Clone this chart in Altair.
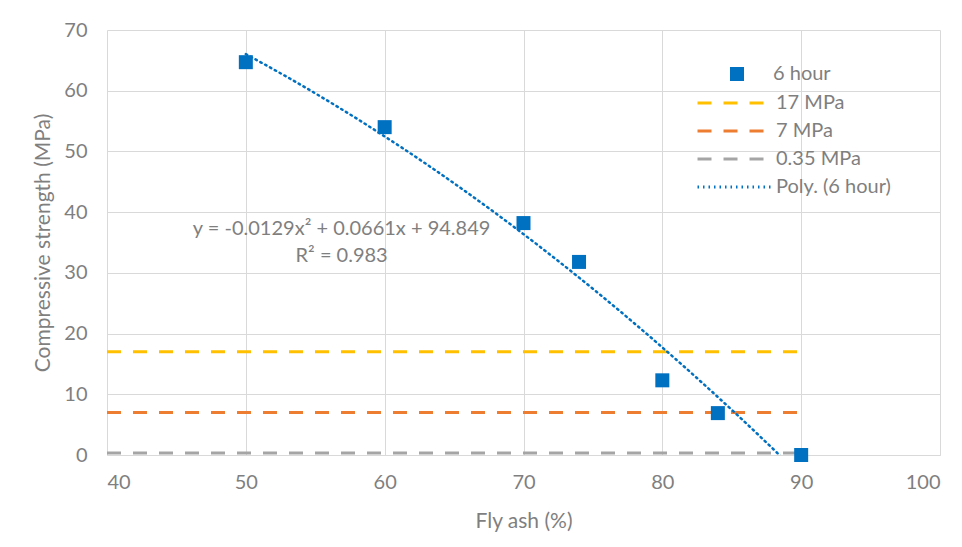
import altair as alt
import pandas as pd

# ---- data ----
fly_ash = [50, 60, 70, 74, 80, 84, 90]
strength = [64.7, 54.0, 38.2, 31.8, 12.3, 6.9, 0.0]
series_name = "6 hour"
trend_name = "Poly. (6 hour)"

limit_names = ["17 MPa", "7 MPa", "0.35 MPa"]
limit_values = [17, 7, 0.35]
limit_colors = ["#FFC000", "#ED7D31", "#A5A5A5"]
limit_start = [40, 40, 40]
limit_end = [90, 90, 90]

eq_text = ["y = -0.0129x² + 0.0661x + 94.849", "R² = 0.983"]
eq_x = [56.9, 56.9]
eq_y = [37.3, 32.7]

x_ticks = [40, 50, 60, 70, 80, 90, 100]
y_ticks = [0, 10, 20, 30, 40, 50, 60, 70]

GRAY = "#7F7F7F"
BLUE = "#0070C0"
FONT = "Lato"
LINE_SYMBOL = "M-5,0H5"
LINE_SIZE = 213

pts = pd.DataFrame({"fly": fly_ash, "str": strength, "series": series_name})
lim = pd.DataFrame({"name": limit_names, "v": limit_values, "x0": limit_start, "x1": limit_end})
eq = pd.DataFrame({"t": eq_text, "x": eq_x, "y": eq_y})

xs = alt.Scale(domain=[40, 100], nice=False)
ys = alt.Scale(domain=[0, 70], nice=False)

xaxis = alt.Axis(values=x_ticks, title="Fly ash (%)", labelPadding=17, titlePadding=18)
yaxis = alt.Axis(values=y_ticks, title="Compressive strength (MPa)", labelPadding=20,
                 titlePadding=10, domain=False)

rules = alt.Chart(lim).mark_rule(strokeDash=[14, 12], strokeWidth=3).encode(
    x=alt.X("x0:Q", scale=xs, axis=xaxis),
    x2="x1:Q",
    y=alt.Y("v:Q", scale=ys, axis=yaxis),
    color=alt.Color("name:N", scale=alt.Scale(domain=limit_names, range=limit_colors),
                    legend=alt.Legend(title=None, orient="none", legendX=617, legendY=63,
                                      symbolType=LINE_SYMBOL, symbolDash=[14, 12],
                                      symbolStrokeWidth=3, symbolSize=LINE_SIZE,
                                      labelOffset=32, rowPadding=8)),
)

trend = alt.Chart(pts).transform_regression(
    "fly", "str", method="poly", order=2, extent=[50, 90]
).transform_calculate(series=f"'{trend_name}'").mark_line(
    clip=True, strokeWidth=2.5, strokeCap="round", color=BLUE
).encode(
    x=alt.X("fly:Q", scale=xs),
    y=alt.Y("str:Q", scale=ys),
    strokeDash=alt.StrokeDash("series:N", scale=alt.Scale(domain=[trend_name], range=[[1.5, 4]]),
                              legend=alt.Legend(title=None, orient="none", legendX=617, legendY=147,
                                                symbolType=LINE_SYMBOL, symbolStrokeColor=BLUE,
                                                symbolStrokeWidth=3, symbolSize=LINE_SIZE,
                                                labelOffset=32)),
)

points = alt.Chart(pts).mark_point(filled=True, size=196, opacity=1, color=BLUE).encode(
    x=alt.X("fly:Q", scale=xs),
    y=alt.Y("str:Q", scale=ys),
    shape=alt.Shape("series:N", scale=alt.Scale(domain=[series_name], range=["square"]),
                    legend=alt.Legend(title=None, orient="none", legendX=620, legendY=34,
                                      symbolFillColor=BLUE, symbolStrokeWidth=0,
                                      symbolSize=196, labelOffset=26)),
)

eq_text_mark = alt.Chart(eq).mark_text(font=FONT, fontSize=20, color=GRAY, align="center",
                                       baseline="middle").encode(
    x=alt.X("x:Q", scale=xs), y=alt.Y("y:Q", scale=ys), text="t:N")

chart = alt.layer(rules, trend, points, eq_text_mark).resolve_legend(
    color="independent", shape="independent", strokeDash="independent"
).properties(
    width=833, height=425,
    autosize=alt.AutoSizeParams(type="none"),
    padding={"left": 99, "top": 22, "right": 14, "bottom": 80},
).configure_view(stroke=None).configure_axis(
    labelFont=FONT, labelFontSize=20, labelColor=GRAY,
    titleFont=FONT, titleFontSize=21, titleColor=GRAY, titleFontWeight="normal",
    gridColor="#D9D9D9", gridWidth=1, ticks=False,
    domainColor="#D9D9D9", domainWidth=1,
).configure_legend(
    labelFont=FONT, labelFontSize=20, labelColor=GRAY,
)

chart.save("out.html", embed_options={"renderer": "svg", "actions": False})
